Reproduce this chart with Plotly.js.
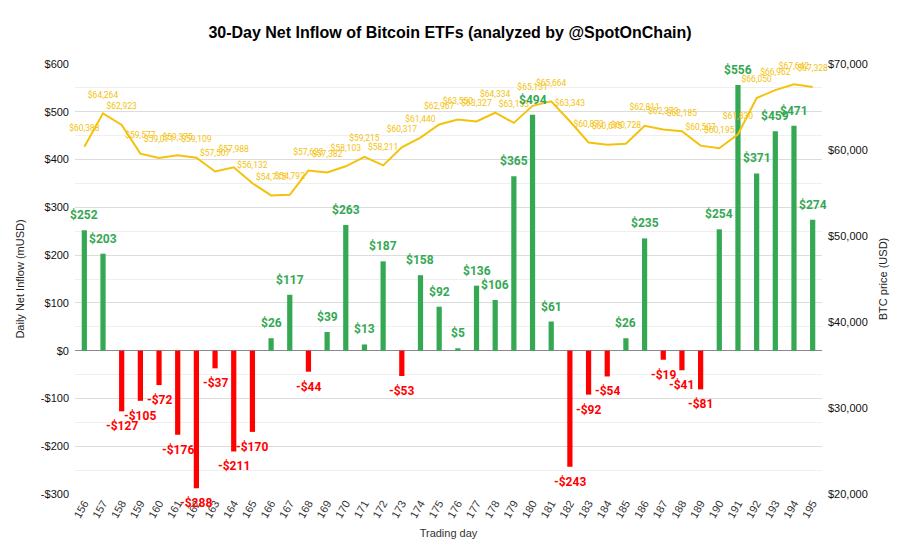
<!DOCTYPE html>
<html>
<head>
<meta charset="utf-8">
<script src="https://cdn.plot.ly/plotly-3.0.1.min.js"></script>
<style>html,body{margin:0;padding:0;background:#fff;}#chart{width:900px;height:541px;}</style>
</head>
<body>
<div id="chart"></div>
<script>
const tradingDays = ["156","157","158","159","160","161","162","163","164","165","166","167","168","169","170","171","172","173","174","175","176","177","178","179","180","181","182","183","184","185","186","187","188","189","190","191","192","193","194","195"];
const netInflow = [252,203,-127,-105,-72,-176,-288,-37,-211,-170,26,117,-44,39,263,13,187,-53,158,92,5,136,106,365,494,61,-243,-92,-54,26,235,-19,-41,-81,254,556,371,459,471,274];
const btcPrice = [60388,64264,62923,59577,59071,59375,59109,57507,57988,56132,54715,54792,57623,57382,58103,59215,58211,60317,61440,62967,63550,63327,64334,63153,65131,65664,63343,60873,60615,60728,62811,62373,62185,60507,60195,61830,66050,66962,67642,67328];
const leftTickVals = [-300,-200,-100,0,100,200,300,400,500,600];
const leftTickText = ["-$300","-$200","-$100","$0","$100","$200","$300","$400","$500","$600"];
const rightTickVals = [20000,30000,40000,50000,60000,70000];
const rightTickText = ["$20,000","$30,000","$40,000","$50,000","$60,000","$70,000"];

const GREEN = "#34A853", RED = "#FF0000", GOLD = "#F4C20D";
const fmtFlow = v => (v < 0 ? "-$" : "$") + Math.abs(v);
const fmtPrice = v => "$" + v.toLocaleString("en-US");

const bars = {
  type: "bar", x: tradingDays, y: netInflow, yaxis: "y",
  width: 0.28,
  marker: {color: netInflow.map(v => v < 0 ? RED : GREEN)},
  hoverinfo: "x+y", showlegend: false
};
const line = {
  type: "scatter", mode: "lines+markers+text", x: tradingDays, y: btcPrice, yaxis: "y2",
  line: {color: GOLD, width: 2},
  marker: {size: 20, color: "rgba(0,0,0,0)", line: {width: 0}},
  text: btcPrice.map(fmtPrice),
  textposition: "top center",
  cliponaxis: false,
  textfont: {family: "Roboto, Arial, sans-serif", size: 8.5, color: GOLD},
  showlegend: false
};

// bar value labels, placed at each bar's category index and value
const barLabels = netInflow.map((v, i) => ({
  xref: "x", yref: "y", x: i, y: v, text: "<b>" + fmtFlow(v) + "</b>", showarrow: false,
  yanchor: v < 0 ? "top" : "bottom", yshift: v < 0 ? -6 : 6,
  font: {family: "Roboto, Arial, sans-serif", size: 12, color: v < 0 ? RED : GREEN}
}));

const layout = {
  width: 900, height: 541,
  margin: {l: 75, r: 78, t: 64, b: 47},
  paper_bgcolor: "#fff", plot_bgcolor: "#fff",
  title: {text: "<b>30-Day Net Inflow of Bitcoin ETFs (analyzed by @SpotOnChain)</b>", x: 0.5, xanchor: "center", y: 0.94, yanchor: "middle",
          font: {family: "Liberation Sans, Arial, sans-serif", size: 16, color: "#000"}},
  annotations: barLabels,
  xaxis: {
    type: "category", range: [-0.5, tradingDays.length - 0.5], autorange: false, tickangle: -60,
    tickfont: {family: "Liberation Sans, Arial, sans-serif", size: 11, color: "#333"},
    showgrid: false, zeroline: false, showline: false, ticks: "",
    title: {text: "Trading day", font: {family: "Liberation Sans, Arial, sans-serif", size: 11, color: "#333"}, standoff: 10}
  },
  yaxis: {
    range: [-300, 600], autorange: false, tickmode: "array", tickvals: leftTickVals, ticktext: leftTickText,
    tickfont: {family: "Liberation Sans, Arial, sans-serif", size: 11, color: "#111"},
    ticklabelstandoff: 5,
    showgrid: true, gridcolor: "#dcdcdc", gridwidth: 1,
    minor: {tickmode: "linear", tick0: -300, dtick: 50, showgrid: true, gridcolor: "#efefef", ticks: ""},
    zeroline: true, zerolinecolor: "#8a8a8a", zerolinewidth: 1.5,
    showline: false, ticks: "",
    title: {text: "Daily Net Inflow (mUSD)", font: {family: "Liberation Sans, Arial, sans-serif", size: 11, color: "#222"}, standoff: 14}
  },
  yaxis2: {
    overlaying: "y", side: "right", range: [20000, 70000], autorange: false,
    tickmode: "array", tickvals: rightTickVals, ticktext: rightTickText,
    tickfont: {family: "Liberation Sans, Arial, sans-serif", size: 11, color: "#111"},
    ticklabelstandoff: 5,
    showgrid: false, zeroline: false, showline: false, ticks: "",
    title: {text: "BTC price (USD)", font: {family: "Liberation Sans, Arial, sans-serif", size: 11, color: "#222"}, standoff: 12}
  }
};
Plotly.newPlot("chart", [bars, line], layout, {displayModeBar: false, staticPlot: true});
</script>
</body>
</html>
